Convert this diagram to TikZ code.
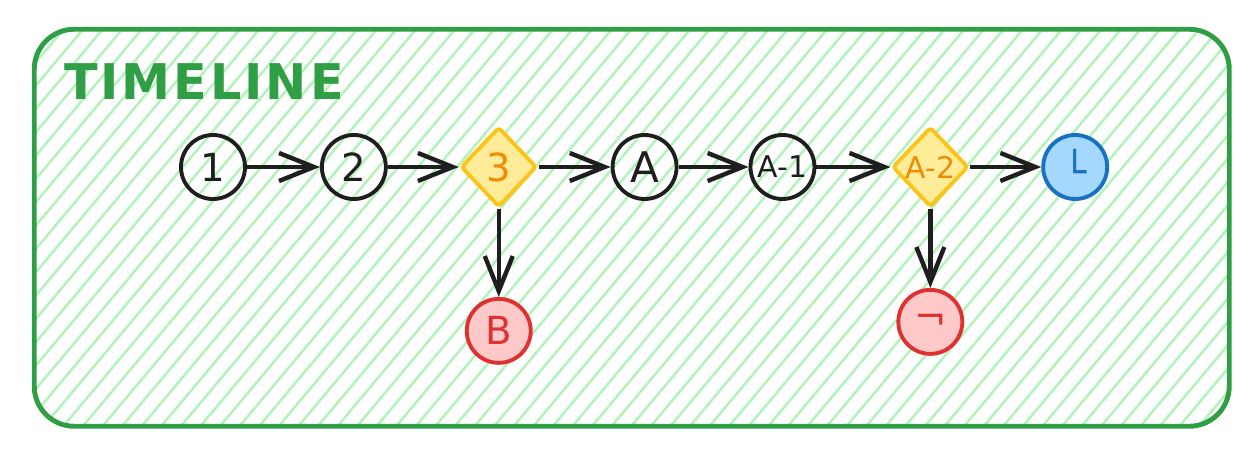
\documentclass[tikz,border=0pt]{standalone}
\usepackage{fontspec}
\setmainfont{DejaVu Sans}
\usetikzlibrary{arrows.meta,positioning,shapes.geometric,patterns.meta}
\definecolor{ink}{HTML}{1E1E1E}
\definecolor{frame}{HTML}{2F9E44}
\definecolor{hatch}{HTML}{B2F2BB}
\definecolor{forkfill}{HTML}{FFEC99}
\definecolor{forkline}{HTML}{FCC419}
\definecolor{forktext}{HTML}{F08C00}
\definecolor{badfill}{HTML}{FFC9C9}
\definecolor{badline}{HTML}{E03131}
\definecolor{okfill}{HTML}{A5D8FF}
\definecolor{okline}{HTML}{1971C2}

\begin{document}
\begin{tikzpicture}[font=\fontsize{22}{24}\selectfont,>={Straight Barb[length=7mm,width=5.6mm]},
tick/.style={circle,draw=ink,line width=2.2pt,minimum size=1.28cm,inner sep=0pt,text=ink},
fork/.style={diamond,draw=forkline,line width=2.2pt,fill=forkfill,minimum width=1.52cm,minimum height=1.6cm,inner sep=0pt,text=forktext,rounded corners=2pt},
badend/.style={circle,draw=badline,line width=2.2pt,fill=badfill,minimum size=1.28cm,inner sep=0pt,text=badline},
okend/.style={circle,draw=okline,line width=2.2pt,fill=okfill,minimum size=1.28cm,inner sep=0pt,text=okline},
flow/.style={->,draw=ink,line width=2.5pt}]
\useasboundingbox (0,0) rectangle (25.2,-9.1);
% frame with hatching
\node[draw=frame,line width=2.8pt,rounded corners=0.8cm,pattern={Lines[angle=50,distance=0.3cm,line width=0.05cm]},pattern color=hatch,minimum width=23.9cm,minimum height=7.94cm,anchor=north west] (frame) at (0.66,-0.56) {};
\node[text=frame,font=\fontsize{28}{30}\selectfont\bfseries\addfontfeatures{LetterSpace=6},anchor=west] (title) at (1.16,-1.64) {TIMELINE};
% main row
\node[tick] (n1) at (4.26,-3.34) {1};
\node[tick,right=1.46cm of n1] (n2) {2};
\node[fork,right=1.42cm of n2] (n3) {3};
\node[tick,right=1.44cm of n3] (nA) {\fontsize{24}{26}\selectfont A};
\node[tick,right=1.40cm of nA] (nA1) {\fontsize{17}{19}\selectfont A-1};
\node[fork,right=1.48cm of nA1,font=\fontsize{17}{19}\selectfont] (nA2) {A-2};
\node[okend,right=1.42cm of nA2] (done) {└};
% side exits
\node[badend,below=1.76cm of n3] (nB) {B};
\node[badend,below=1.58cm of nA2] (cut) {¬};
\draw[flow] (n1)--(n2);
\draw[flow] (n2)--(n3);
\draw[flow] (n3)--(nA);
\draw[flow] (nA)--(nA1);
\draw[flow] (nA1)--(nA2);
\draw[flow] (nA2)--(done);
\draw[flow] (n3)--(nB);
\draw[flow] (nA2)--(cut);
\end{tikzpicture}
\end{document}
